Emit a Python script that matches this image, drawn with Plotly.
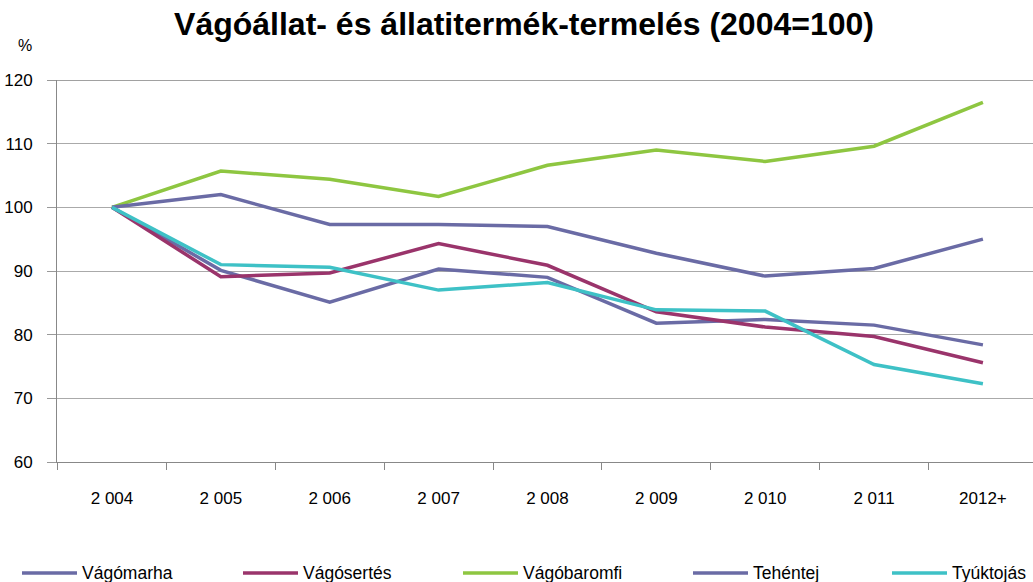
import plotly.graph_objects as go

years = ["2 004", "2 005", "2 006", "2 007", "2 008", "2 009", "2 010", "2 011", "2012+"]
vagomarha = [100, 90.1, 85.1, 90.3, 89.0, 81.8, 82.4, 81.5, 78.4]
vagosertes = [100, 89.1, 89.7, 94.3, 90.9, 83.6, 81.2, 79.7, 75.6]
vagobaromfi = [100, 105.7, 104.4, 101.7, 106.6, 109.0, 107.2, 109.6, 116.5]
tehentej = [100, 102.0, 97.3, 97.3, 97.0, 92.8, 89.2, 90.4, 95.0]
tyuktojas = [100, 91.0, 90.6, 87.0, 88.2, 83.9, 83.7, 75.3, 72.3]

names = ["Vágómarha", "Vágósertés", "Vágóbaromfi", "Tehéntej", "Tyúktojás"]
values = [vagomarha, vagosertes, vagobaromfi, tehentej, tyuktojas]
colors = ["#6A6BA5", "#9A346B", "#8EC641", "#6A6BA5", "#3EC1C6"]

W, H = 1033, 582
ML, MR, MT, MB = 57, 0, 80, 120
font = "Liberation Sans, Arial, sans-serif"

fig = go.Figure()
for name, vals, col in zip(names, values, colors):
    fig.add_trace(go.Scatter(x=years, y=vals, name=name, mode="lines",
                             line=dict(color=col, width=3.5), showlegend=False))

# manual legend (single row, running off the right edge like the original)
legend_x = [22, 243, 463, 693, 892]  # pixel x of legend line starts
legend_y_px = 573
pw = W - ML - MR
ph = H - MT - MB
def px_to_paper_x(px):
    return (px - ML) / pw
def px_to_paper_y(py):
    return (H - MB - py) / ph

shapes = []
annotations = []
for name, col, lx in zip(names, colors, legend_x):
    ly = px_to_paper_y(legend_y_px)
    shapes.append(dict(type="line", xref="paper", yref="paper",
                       x0=px_to_paper_x(lx), x1=px_to_paper_x(lx + 55), y0=ly, y1=ly,
                       line=dict(color=col, width=3.5)))
    annotations.append(dict(text=name, xref="paper", yref="paper",
                            x=px_to_paper_x(lx + 58), y=ly, xanchor="left", yanchor="middle",
                            showarrow=False, font=dict(size=17.5, family=font, color="black")))

annotations.append(dict(text="%", xref="paper", yref="paper",
                        x=px_to_paper_x(25), y=px_to_paper_y(45),
                        xanchor="center", yanchor="middle", showarrow=False,
                        font=dict(size=16, family=font, color="black")))

shapes.append(dict(type="line", xref="paper", yref="y", x0=0, x1=1, y0=120, y1=120,
                   line=dict(color="#444444", width=1)))

fig.update_layout(
    width=W, height=H,
    margin=dict(l=ML, r=MR, t=MT, b=MB, autoexpand=False),
    paper_bgcolor="white", plot_bgcolor="white",
    font=dict(family=font, color="black", size=17),
    title=dict(text="<b>Vágóállat- és állatitermék-termelés (2004=100)</b>",
               xref="container", yref="container",
               x=524 / W, xanchor="center", y=1 - 24 / H, yanchor="middle",
               font=dict(size=32, family=font, color="black")),
    showlegend=False,
    xaxis=dict(type="category", range=[-0.505, 8.46], showgrid=False,
               ticks="outside", tickson="boundaries", ticklen=7, tickcolor="#888888",
               showline=True, linecolor="#888888", linewidth=1,
               ticklabelstandoff=21,
               tickfont=dict(size=17, family=font), zeroline=False, fixedrange=True),
    yaxis=dict(range=[60, 120], dtick=10, showgrid=True, gridcolor="#AAAAAA", gridwidth=1,
               ticks="outside", ticklen=9, tickcolor="#999999",
               showline=True, linecolor="#888888", linewidth=1,
               ticklabelstandoff=11,
               tickfont=dict(size=17, family=font), zeroline=False, fixedrange=True),
    shapes=shapes,
    annotations=annotations,
)
fig.write_html("out.html", config={"displayModeBar": False},
               post_script="document.body.style.margin='0';document.body.style.overflow='hidden';")
